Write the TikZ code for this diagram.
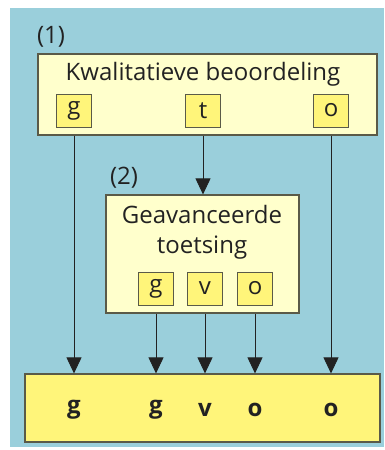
\documentclass[tikz,border=0pt]{standalone}
\usepackage{fontspec}
\setmainfont{Open Sans}
\usetikzlibrary{arrows.meta}
\definecolor{bgblue}{HTML}{9ACFDB}
\definecolor{lightyel}{HTML}{FFFFCC}
\definecolor{yel}{HTML}{FFF57A}
\definecolor{edge}{HTML}{5A5A48}
\definecolor{ink}{HTML}{222222}
\begin{document}
\begin{tikzpicture}[x=1pt,y=-1pt,
  panel/.style={draw=edge,line width=1.2pt,fill=lightyel},
  letterbox/.style={draw=edge,line width=1pt,fill=yel,minimum width=35pt,minimum height=33pt,inner sep=0pt,font=\fontsize{24}{26}\selectfont,text=ink},
  title/.style={font=\fontsize{24}{30}\selectfont,text=ink,inner sep=0pt,align=center},
  outletter/.style={font=\fontsize{24}{26}\selectfont\bfseries,text=ink,inner sep=0pt},
  conn/.style={draw=ink,line width=0.8pt,-{Triangle[length=16pt,width=15pt]}}]
\useasboundingbox (0,0) rectangle (384,450);
\fill[bgblue] (10,8) rectangle (384,447);
% box 1
\node[panel,minimum width=339pt,minimum height=81pt,inner sep=0pt] (box1) at (207.5,94.5) {};
\node[title] (t1title) at (203,74) {Kwalitatieve beoordeling};
\node[title] (lab1) at (51,37) {(1)};
\node[letterbox] (g1) at (74,110.5) {g};
\node[letterbox] (t1) at (203,110.5) {t};
\node[letterbox] (o1) at (331,110.5) {o};
% box 2
\node[panel,minimum width=193pt,minimum height=118pt,inner sep=0pt] (box2) at (202.5,254) {};
\node[title] (t2title) at (202,232) {Geavanceerde\\toetsing};
\node[title] (lab2) at (124,178) {(2)};
\node[letterbox] (g2) at (156,288.5) {g};
\node[letterbox] (v2) at (205,288.5) {v};
\node[letterbox] (o2) at (255,288.5) {o};
% bottom box
\node[draw=edge,line width=1.2pt,fill=yel,minimum width=355pt,minimum height=68pt,inner sep=0pt] (bot) at (202.5,408) {};
\node[outletter] (b1) at (74,410) {g};
\node[outletter] (b2) at (156,410) {g};
\node[outletter] (b3) at (205,410) {v};
\node[outletter] (b4) at (255,410) {o};
\node[outletter] (b5) at (331,410) {o};
% connectors
\draw[conn] (g1.south |- box1.south) -- (g1.south |- bot.north);
\draw[conn] (t1.south |- box1.south) -- (t1.south |- box2.north);
\draw[conn] (o1.south |- box1.south) -- (o1.south |- bot.north);
\draw[conn] (g2.south |- box2.south) -- (g2.south |- bot.north);
\draw[conn] (v2.south |- box2.south) -- (v2.south |- bot.north);
\draw[conn] (o2.south |- box2.south) -- (o2.south |- bot.north);
\end{tikzpicture}
\end{document}
